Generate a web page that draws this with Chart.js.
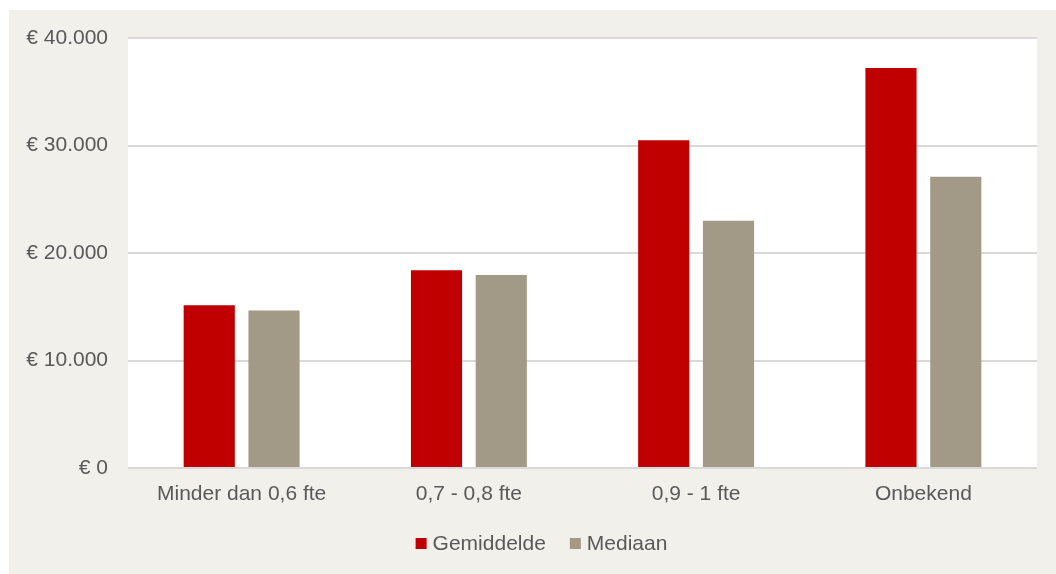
<!DOCTYPE html>
<html>
<head>
<meta charset="utf-8">
<script src="https://cdn.jsdelivr.net/npm/chart.js@4/dist/chart.umd.min.js"></script>
<style>
  html, body { margin: 0; padding: 0; background: #ffffff; }
  #wrap {
    position: absolute; left: 9px; top: 10px;
    width: 1047px; height: 564px;
    background: #f1f0ea;
  }
</style>
</head>
<body>
<div id="wrap"><canvas id="bar"></canvas></div>
<script>
// data
const categories = ["Minder dan 0,6 fte", "0,7 - 0,8 fte", "0,9 - 1 fte", "Onbekend"];
const gemiddelde = [15150, 18400, 30500, 37200];
const mediaan = [14650, 17950, 23000, 27100];
const yTicks = [0, 10000, 20000, 30000, 40000];

const textColor = "#595959";
const fontFamily = "'Liberation Sans', Arial, sans-serif";

// "€ 40.000"
function euro(v) {
  return "€ " + String(v).replace(/\B(?=(\d{3})+(?!\d))/g, ".");
}

// witte achtergrond alleen voor het plotgebied
const plotBg = {
  id: "plotBg",
  beforeDraw(chart) {
    const a = chart.chartArea;
    const c = chart.ctx;
    c.save();
    c.fillStyle = "#ffffff";
    c.fillRect(a.left, a.top, a.right - a.left, a.bottom - a.top);
    c.restore();
  },
};

// legenda onderaan, kleine vierkantjes dicht bij de tekst
const bottomLegend = {
  id: "bottomLegend",
  afterDraw(chart) {
    const c = chart.ctx;
    const ds = chart.data.datasets;
    const box = 11, gap = 6, spacing = 24;
    c.save();
    c.font = "21px " + fontFamily;
    c.textBaseline = "middle";
    c.textAlign = "left";
    const widths = ds.map((d) => c.measureText(d.label).width);
    let total = 0;
    widths.forEach((w, i) => {
      total += box + gap + w + (i < widths.length - 1 ? spacing : 0);
    });
    let x = chart.width / 2 + 9 - total / 2;
    const y = 533.5;
    ds.forEach((d, i) => {
      c.fillStyle = d.backgroundColor;
      c.fillRect(x, y - box / 2, box, box);
      c.fillStyle = textColor;
      c.fillText(d.label, x + box + gap, y + 1);
      x += box + gap + widths[i] + spacing;
    });
    c.restore();
  },
};

const ctx = document.getElementById("bar").getContext("2d");

const barChart = new Chart(ctx, {
  type: "bar",
  data: {
    labels: categories,
    datasets: [
      {
        label: "Gemiddelde",
        data: gemiddelde,
        backgroundColor: "#c00000",
        categoryPercentage: 0.57,
        barPercentage: 0.79,
      },
      {
        label: "Mediaan",
        data: mediaan,
        backgroundColor: "#a29a86",
        categoryPercentage: 0.57,
        barPercentage: 0.79,
      },
    ],
  },
  options: {
    responsive: true,
    maintainAspectRatio: false,
    animation: false,
    layout: {
      padding: { top: 28, right: 19, left: 0, bottom: 67 },
    },
    plugins: {
      legend: { display: false },
      tooltip: { enabled: false },
    },
    scales: {
      x: {
        grid: { display: false },
        border: { display: false },
        ticks: {
          color: textColor,
          padding: 6,
          maxRotation: 0,
          font: { size: 21, family: fontFamily },
        },
        afterFit(scale) {
          scale.height = 39;
        },
      },
      y: {
        min: 0,
        max: 40000,
        grid: { color: "#d9d9d9", lineWidth: 2, drawTicks: false },
        border: { display: false },
        afterBuildTicks(scale) {
          scale.ticks = yTicks.map((v) => ({ value: v }));
        },
        afterFit(scale) {
          scale.width = 119;
          // geen extra ruimte boven/onder voor de labels
          scale.paddingTop = 0;
          scale.paddingBottom = 0;
        },
        ticks: {
          color: textColor,
          padding: 20,
          font: { size: 21, family: fontFamily },
          callback: (v) => euro(v),
        },
      },
    },
  },
  plugins: [plotBg, bottomLegend],
});
</script>
</body>
</html>
